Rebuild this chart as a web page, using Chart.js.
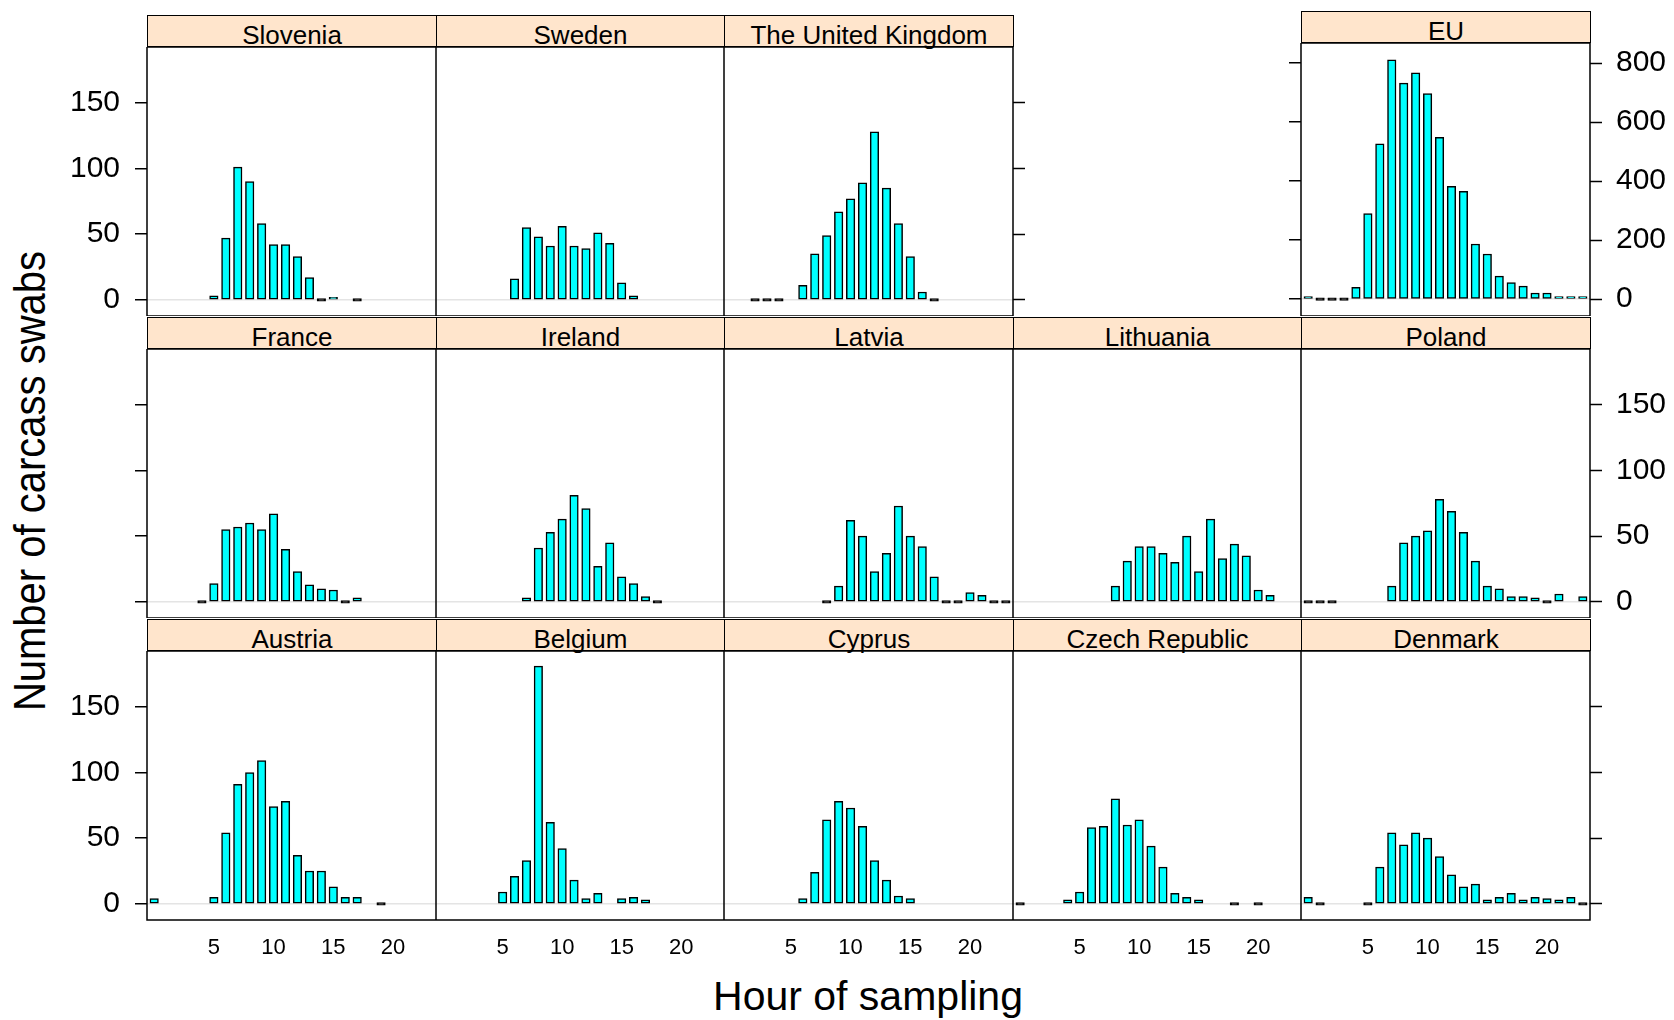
<!DOCTYPE html>
<html>
<head>
<meta charset="utf-8">
<script src="https://cdn.jsdelivr.net/npm/chart.js@4.4.1/dist/chart.umd.min.js"></script>
<style>
  body { margin: 0; background: #fff; }
  #page { position: relative; width: 1674px; height: 1020px; overflow: hidden;
          font-family: "Liberation Sans", Arial, sans-serif; color: #000; }
  .strip { position: absolute; box-sizing: border-box; border: 1.5px solid #000; background: #ffe5cc; }
  .strip span { position: absolute; left: 0; right: 0; top: 6px; text-align: center;
                font-size: 26px; line-height: 26px; white-space: nowrap; }
  canvas { position: absolute; }
  .title { position: absolute; font-size: 40px; line-height: 48px; white-space: nowrap; text-align: center; }
</style>
</head>
<body>
<div id="page">
  <div class="title" style="left:568px; top:972px; width:600px; font-size:41px;">Hour of sampling</div>
  <div class="title" style="left:-271px; top:457px; width:600px; transform: rotate(-90deg) scaleY(1.12);">Number of carcass swabs</div>
</div>
<script>
// hours of sampling (x values)
const hours = [0, 1, 2, 3, 4, 5, 6, 7, 8, 9, 10, 11, 12, 13, 14, 15, 16, 17, 18, 19, 20, 21, 22, 23];
const hourTicks = [5, 10, 15, 20];
const countTicks = [0, 50, 100, 150];
const euTicks = [0, 200, 400, 600, 800];
const countRange = [-12.3, 192.5];
const euRange = [-57, 868];

// number of carcass swabs per hour (null = no sampling in that hour)
const slovenia  = [null, null, null, null, null, 3, 47, 101, 90, 58, 42, 42, 33, 17, 0, 2, null, 0, null, null, null, null, null, null];
const sweden    = [null, null, null, null, null, null, 16, 55, 48, 41, 56, 41, 39, 51, 43, 13, 3, null, null, null, null, null, null, null];
const unitedKingdom = [null, null, 0, 0, 0, null, 11, 35, 49, 67, 77, 89, 128, 85, 58, 33, 6, 0, null, null, null, null, null, null];
const eu        = [9, 0, 0, 0, 40, 290, 526, 811, 732, 767, 697, 548, 382, 365, 187, 153, 78, 56, 44, 21, 21, 6, 5, 4];
const france    = [null, null, null, null, 0, 14, 55, 57, 60, 55, 67, 40, 23, 13, 10, 9, 0, 3, null, null, null, null, null, null];
const ireland   = [null, null, null, null, null, null, null, 3, 41, 53, 63, 81, 71, 27, 45, 19, 14, 4, 0, null, null, null, null, null];
const latvia    = [null, null, null, null, null, null, null, null, 0, 12, 62, 50, 23, 37, 73, 50, 42, 19, 0, 0, 7, 5, 0, 0];
const lithuania = [null, null, null, null, null, null, null, null, 12, 31, 42, 42, 37, 30, 50, 23, 63, 33, 44, 35, 9, 5, null, null];
const poland    = [0, 0, 0, null, null, null, null, 12, 45, 50, 54, 78, 69, 53, 31, 12, 10, 4, 4, 3, 0, 6, null, 4];
const austria   = [4, null, null, null, null, 5, 54, 91, 100, 109, 74, 78, 37, 25, 25, 13, 5, 5, null, 0, null, null, null, null];
const belgium   = [null, null, null, null, null, 9, 21, 33, 181, 62, 42, 18, 4, 8, null, 4, 5, 3, null, null, null, null, null, null];
const cyprus    = [null, null, null, null, null, null, 4, 24, 64, 78, 73, 59, 33, 18, 6, 4, null, null, null, null, null, null, null, null];
const czechRepublic = [0, null, null, null, 3, 9, 58, 59, 80, 60, 64, 44, 28, 8, 5, 3, null, null, 0, null, 0, null, null, null];
const denmark   = [5, 0, null, null, null, 0, 28, 54, 45, 54, 50, 36, 22, 13, 15, 3, 5, 8, 3, 5, 4, 3, 5, 0];

const panels = [
  { name: 'Slovenia', values: slovenia, row: 0, col: 0 },
  { name: 'Sweden', values: sweden, row: 0, col: 1 },
  { name: 'The United Kingdom', values: unitedKingdom, row: 0, col: 2 },
  { name: 'EU', values: eu, row: 0, col: 4 },
  { name: 'France', values: france, row: 1, col: 0 },
  { name: 'Ireland', values: ireland, row: 1, col: 1 },
  { name: 'Latvia', values: latvia, row: 1, col: 2 },
  { name: 'Lithuania', values: lithuania, row: 1, col: 3 },
  { name: 'Poland', values: poland, row: 1, col: 4 },
  { name: 'Austria', values: austria, row: 2, col: 0 },
  { name: 'Belgium', values: belgium, row: 2, col: 1 },
  { name: 'Cyprus', values: cyprus, row: 2, col: 2 },
  { name: 'Czech Republic', values: czechRepublic, row: 2, col: 3 },
  { name: 'Denmark', values: denmark, row: 2, col: 4 }
];

const colEdges = [147, 436, 724, 1013, 1301, 1590];
const stripTops = [15, 317, 619];
const stripH = 32;
const plotH = 269;

Chart.defaults.font.family = '"Liberation Sans", Arial, sans-serif';
Chart.defaults.color = '#000';

// draws the black frame round each panel
const panelBorder = {
  id: 'panelBorder',
  afterDraw(chart) {
    const a = chart.chartArea;
    const ctx = chart.ctx;
    ctx.save();
    ctx.strokeStyle = '#000';
    ctx.lineWidth = 1.5;
    ctx.strokeRect(a.left, a.top, a.right - a.left, a.bottom - a.top);
    ctx.restore();
  }
};

function setTicks(list) {
  return scale => { scale.ticks = list.map(v => ({ value: v })); };
}

function fixSize(prop, size) {
  return scale => {
    scale[prop] = size;
    scale.paddingTop = 0; scale.paddingBottom = 0;
    scale.paddingLeft = 0; scale.paddingRight = 0;
  };
}

function makePanel(p) {
  const page = document.getElementById('page');
  const isEU = p.name === 'EU';
  const left = colEdges[p.col];
  const width = colEdges[p.col + 1] - left;
  const stripTop = isEU ? 11 : stripTops[p.row];
  const plotTop = stripTop + stripH;
  const height = isEU ? 316 - plotTop : plotH;

  const strip = document.createElement('div');
  strip.className = 'strip';
  strip.style.left = left + 'px';
  strip.style.top = stripTop + 'px';
  strip.style.width = (width + 1) + 'px';
  strip.style.height = stripH + 'px';
  strip.innerHTML = '<span>' + p.name + '</span>';
  page.appendChild(strip);

  const leftTicks = p.col === 0 || isEU;
  const leftLabels = p.col === 0 && p.row !== 1;
  const rightTicks = p.col === 4 || (p.row === 0 && p.col === 2);
  const rightLabels = p.col === 4 && p.row !== 2;
  const lm = p.col === 0 ? 147 : (isEU ? 13 : 0);
  const rm = rightLabels ? 84 : (rightTicks ? 13 : 0);
  const bm = p.row === 2 ? 60 : 0;
  const range = isEU ? euRange : countRange;
  const yTicks = isEU ? euTicks : countTicks;

  const canvas = document.createElement('canvas');
  canvas.width = lm + width + rm;
  canvas.height = height + bm;
  canvas.style.left = (left - lm) + 'px';
  canvas.style.top = plotTop + 'px';
  page.appendChild(canvas);

  new Chart(canvas, {
    type: 'bar',
    data: {
      datasets: [{
        data: hours.map((h, i) => ({ x: h, y: p.values[i] })),
        // zero counts show as a flat black dash, as in lattice
        backgroundColor: c => (c.raw && c.raw.y === 0) ? '#000' : '#00ffff',
        borderColor: '#000',
        borderWidth: 1.5,
        borderSkipped: false,
        barThickness: 8.5,
        minBarLength: 2.5
      }]
    },
    options: {
      responsive: false,
      animation: false,
      events: [],
      layout: { padding: 0 },
      plugins: { legend: { display: false }, tooltip: { enabled: false } },
      scales: {
        x: {
          type: 'linear', min: -0.6, max: 23.6, offset: false,
          display: p.row === 2,
          afterBuildTicks: setTicks(hourTicks),
          afterFit: fixSize('height', bm),
          grid: { display: false, drawTicks: false, offset: false },
          border: { display: false },
          ticks: { padding: 15, font: { size: 22 }, color: '#000', maxRotation: 0, autoSkip: false }
        },
        y: {
          position: 'left', min: range[0], max: range[1],
          afterBuildTicks: setTicks(yTicks),
          afterFit: fixSize('width', lm),
          grid: {
            color: c => (c.tick && c.tick.value === 0) ? '#e4e4e4' : 'rgba(0,0,0,0)',
            lineWidth: 1.5,
            drawTicks: leftTicks,
            tickLength: 12, tickWidth: 1.5, tickColor: '#000'
          },
          border: { display: false },
          ticks: { display: leftLabels, padding: 15, font: { size: 30 }, color: '#000' }
        },
        y2: {
          position: 'right', display: rightTicks, min: range[0], max: range[1],
          afterBuildTicks: setTicks(yTicks),
          afterFit: fixSize('width', rm),
          grid: { drawOnChartArea: false, tickLength: 12, tickWidth: 1.5, tickColor: '#000' },
          border: { display: false },
          ticks: { display: rightLabels, padding: 14, font: { size: 30 }, color: '#000' }
        }
      }
    },
    plugins: [panelBorder]
  });
}

document.addEventListener('DOMContentLoaded', () => {
  panels.forEach(makePanel);
});
</script>
</body>
</html>
